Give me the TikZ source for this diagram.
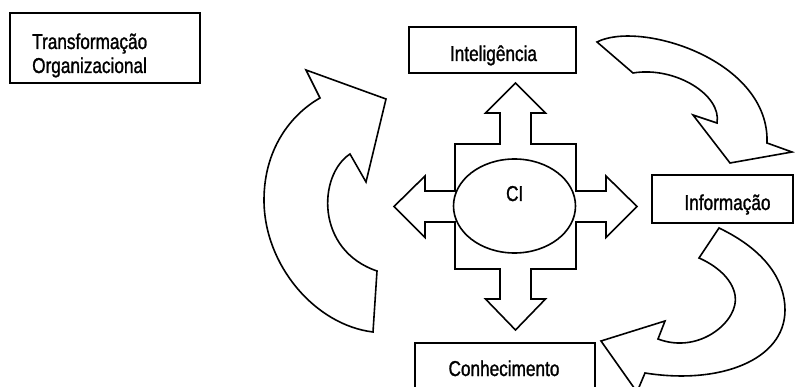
\documentclass[tikz,border=0pt]{standalone}
\usepackage{fontspec}
\usetikzlibrary{shapes.geometric}
\setmainfont{Liberation Sans}[FakeStretch=0.8,FakeBold=1.2]
\begin{document}
\begin{tikzpicture}[x=1pt,y=-1pt,line join=miter,
  shp/.style={draw=black,fill=white,line width=1.6pt},
  boxn/.style={draw=black,fill=white,line width=1.6pt,inner sep=0pt},
  lbl/.style={inner sep=0pt,anchor=base,font=\fontsize{21.5}{24}\selectfont}]
\useasboundingbox (0,0) rectangle (795,387);
\clip (0,0) rectangle (795,387);
% boxes
\node[boxn,minimum width=190pt,minimum height=70pt] (transf) at (105,48) {};
\node[boxn,minimum width=167pt,minimum height=46pt] (intel) at (492.5,50) {};
\node[boxn,minimum width=141pt,minimum height=48pt] (info) at (722.5,199) {};
\node[boxn,minimum width=180pt,minimum height=60pt] (conh) at (505,373) {};
% labels
\node[lbl,anchor=base west] (t1) at (32,49) {Transformação};
\node[lbl,anchor=base west] (t2) at (32,73) {Organizacional};
\node[lbl] (tintel) at (493.5,61) {Inteligência};
\node[lbl] (tinfo) at (727.5,210) {Informação};
\node[lbl] (tconh) at (504,376) {Conhecimento};
% curved arrow top right
\draw[shp] (597,42) .. controls (640,20) and (770,60) .. (767,143)
  -- (792,152) -- (730,163) -- (693,115) -- (717,123)
  .. controls (722,95) and (675,66) .. (633,73) -- cycle;
% curved arrow right bottom
\draw[shp] (719,228) .. controls (765,250) and (785,280) .. (785,310)
  .. controls (785,360) and (720,385) .. (645,373)
  -- (637,392) -- (601,341) -- (665,321) -- (658,339)
  .. controls (700,355) and (740,320) .. (735,295)
  .. controls (732,278) and (715,265) .. (699,258) -- cycle;
% curved arrow left
\draw[shp] (377,271) -- (373,332) .. controls (315,325) and (264,265) .. (264,200)
  .. controls (264,150) and (290,115) .. (320,98)
  -- (306,70) -- (386,99) -- (366,182) -- (350,154)
  .. controls (318,175) and (315,250) .. (377,271) -- cycle;
% cross
\draw[shp] (515.5,83) -- (545.5,113) -- (531,113) -- (531,144) -- (576,144) -- (576,191) -- (606,191) -- (606,176)
  -- (637,206.5) -- (606,237.5) -- (606,222) -- (576,222) -- (576,269) -- (531,269) -- (531,299) -- (545.5,299)
  -- (515.5,330) -- (485.5,299) -- (500,299) -- (500,269) -- (455,269) -- (455,222) -- (425,222) -- (425,237.5)
  -- (394,206.5) -- (425,176) -- (425,191) -- (455,191) -- (455,144) -- (500,144) -- (500,113) -- (485.5,113) -- cycle;
\node[draw=black,fill=white,line width=1.6pt,ellipse,minimum width=122pt,minimum height=94pt,inner sep=0pt] (ci) at (514.5,206) {};
\node[lbl] (tci) at (514.7,201) {CI};
\end{tikzpicture}
\end{document}
